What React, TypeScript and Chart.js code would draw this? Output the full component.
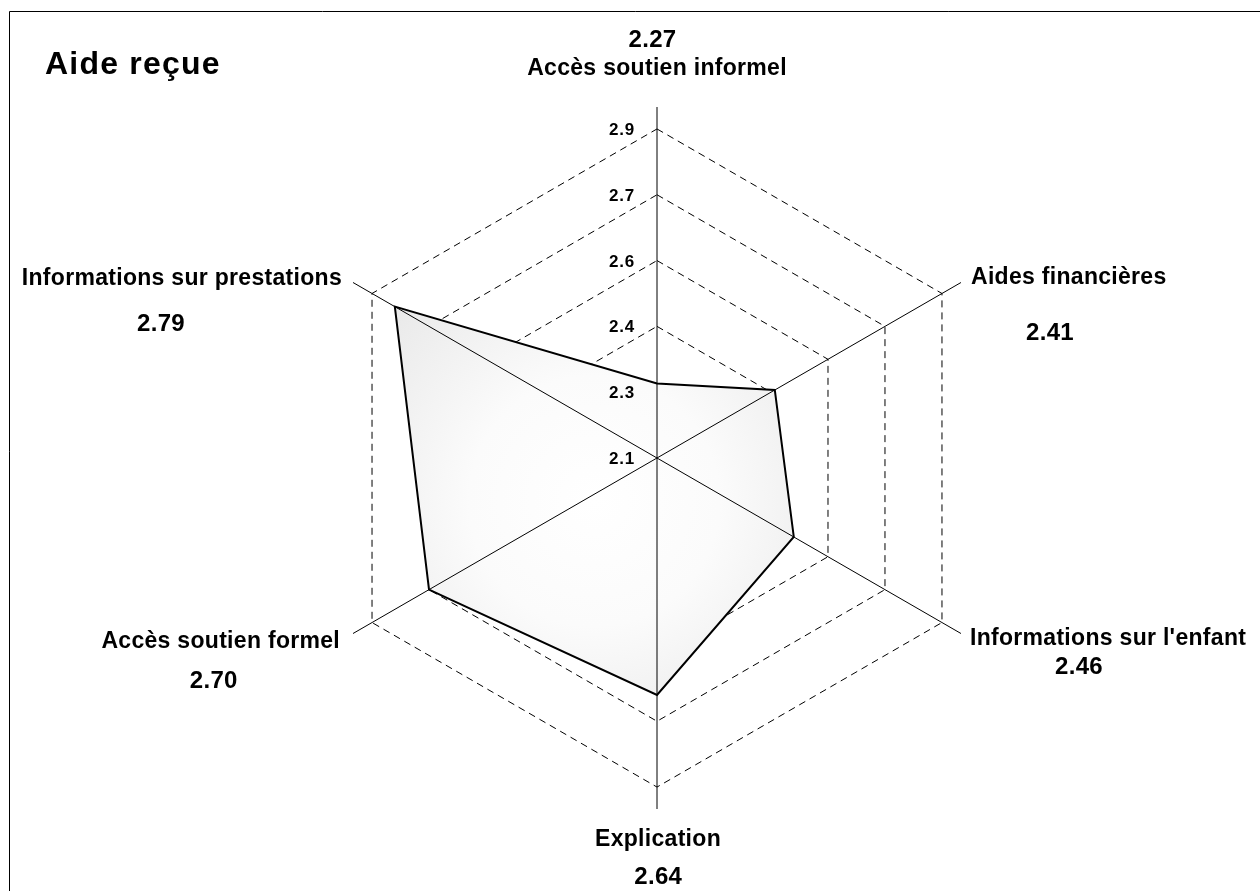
import React, { useEffect, useRef } from "react";
import { Chart, registerables } from "chart.js";

Chart.register(...registerables);

// ---- data ----
const CATEGORIES = [
  "Accès soutien informel",
  "Aides financières",
  "Informations sur l'enfant",
  "Explication",
  "Accès soutien formel",
  "Informations sur prestations",
];
const VALUES = [2.27, 2.41, 2.46, 2.64, 2.7, 2.79];
const TICK_VALUES = [2.1, 2.25, 2.4, 2.55, 2.7, 2.85];
const TICK_LABELS = ["2.1", "2.3", "2.4", "2.6", "2.7", "2.9"];
const SCALE_MIN = 2.1;
const SCALE_MAX = 2.9;
const TITLE = "Aide reçue";

// ---- layout / style ----
const W = 1260;
const H = 891;
const FONT_FAMILY = "'Liberation Sans', Arial, Helvetica, sans-serif";
const NAME_FONT = `bold 23px ${FONT_FAMILY}`;
const VALUE_FONT = `bold 24px ${FONT_FAMILY}`;
const TICK_FONT = `bold 17px ${FONT_FAMILY}`;
const TITLE_FONT = `bold 32px ${FONT_FAMILY}`;

// label offsets relative to the end of each axis line
const NAME_LAYOUT: { dx: number; dy: number; align: CanvasTextAlign }[] = [
  { dx: 0, dy: -32, align: "center" },
  { dx: 10, dy: 1, align: "left" },
  { dx: 9, dy: 11.5, align: "left" },
  { dx: 1, dy: 37, align: "center" },
  { dx: -13, dy: 14, align: "right" },
  { dx: -11, dy: 2, align: "right" },
];
const VALUE_LAYOUT: { dx: number; dy: number }[] = [
  { dx: -4.5, dy: -60.5 },
  { dx: 89, dy: 57.5 },
  { dx: 118, dy: 40 },
  { dx: 1.3, dy: 75 },
  { dx: -139.3, dy: 54 },
  { dx: -192, dy: 48 },
];

const overlayPlugin = {
  id: "overlay",
  afterDatasetsDraw(chart: any) {
    const scale = chart.scales.r;
    const ctx: CanvasRenderingContext2D = chart.ctx;
    if (!scale) return;
    const outer = scale.getDistanceFromCenterForValue(SCALE_MAX);

    ctx.save();
    // angle lines (over the fill)
    ctx.strokeStyle = "#000";
    ctx.lineWidth = 1;
    ctx.setLineDash([]);
    for (let i = 0; i < CATEGORIES.length; i++) {
      const p = scale.getPointPosition(i, outer);
      ctx.beginPath();
      ctx.moveTo(scale.xCenter, scale.yCenter);
      ctx.lineTo(p.x, p.y);
      ctx.stroke();
    }

    ctx.fillStyle = "#000";
    // tick labels
    (ctx as any).letterSpacing = "0.8px";
    ctx.font = TICK_FONT;
    ctx.textAlign = "right";
    ctx.textBaseline = "alphabetic";
    TICK_VALUES.forEach((v, k) => {
      const p = scale.getPointPositionForValue(0, v);
      ctx.fillText(TICK_LABELS[k], p.x - 22, p.y + 6);
    });

    // category names and values
    CATEGORIES.forEach((name, i) => {
      const p = scale.getPointPosition(i, outer);
      const nl = NAME_LAYOUT[i];
      (ctx as any).letterSpacing = "0.3px";
      ctx.font = NAME_FONT;
      ctx.textAlign = nl.align;
      ctx.fillText(name, p.x + nl.dx, p.y + nl.dy);
      const vl = VALUE_LAYOUT[i];
      (ctx as any).letterSpacing = "0.3px";
      ctx.font = VALUE_FONT;
      ctx.textAlign = "center";
      ctx.fillText(VALUES[i].toFixed(2), p.x + vl.dx, p.y + vl.dy);
    });

    // title
    (ctx as any).letterSpacing = "1.2px";
    ctx.font = TITLE_FONT;
    ctx.textAlign = "left";
    ctx.fillText(TITLE, 45, 74);

    // frame
    (ctx as any).letterSpacing = "0px";
    ctx.strokeStyle = "#000";
    ctx.lineWidth = 1;
    ctx.beginPath();
    ctx.moveTo(9.5, H + 5);
    ctx.lineTo(9.5, 11.5);
    ctx.lineTo(W + 5, 11.5);
    ctx.stroke();
    ctx.restore();
  },
};

function fillGradient(c: any) {
  const chart = c.chart;
  const scale = chart.scales && chart.scales.r;
  if (!scale || !chart.chartArea) return "#eeeeee";
  const pts = VALUES.map((v, i) => scale.getPointPositionForValue(i, v));
  const xs = pts.map((p: any) => p.x);
  const ys = pts.map((p: any) => p.y);
  const cx = (Math.min(...xs) + Math.max(...xs)) / 2;
  const cy = (Math.min(...ys) + Math.max(...ys)) / 2;
  let R = 1;
  pts.forEach((p: any) => {
    R = Math.max(R, Math.hypot(p.x - cx, p.y - cy));
  });
  const g = chart.ctx.createRadialGradient(cx, cy, 0, cx, cy, R);
  g.addColorStop(0, "#ffffff");
  g.addColorStop(0.45, "#fbfbfb");
  g.addColorStop(1, "#e9e9e9");
  return g;
}

export default function App() {
  const ref = useRef<HTMLCanvasElement | null>(null);

  useEffect(() => {
    if (!ref.current) return;
    const chart = new Chart(ref.current, {
      type: "radar",
      data: {
        labels: CATEGORIES,
        datasets: [
          {
            data: VALUES,
            borderColor: "#000",
            borderWidth: 2,
            backgroundColor: fillGradient,
            fill: "start",
            pointRadius: 0,
            pointHoverRadius: 0,
            tension: 0,
          },
        ],
      },
      plugins: [overlayPlugin],
      options: {
        animation: false,
        responsive: false,
        events: [],
        layout: { padding: { left: 306, right: 251, top: 107, bottom: 81 } },
        plugins: {
          legend: { display: false },
          title: { display: false },
          tooltip: { enabled: false },
        },
        scales: {
          r: {
            min: SCALE_MIN,
            max: SCALE_MAX,
            startAngle: 0,
            afterBuildTicks: (s: any) => {
              s.ticks = TICK_VALUES.map((v) => ({ value: v }));
            },
            ticks: { display: false },
            pointLabels: { display: false },
            angleLines: { display: false },
            grid: { color: "#000", lineWidth: 1 },
            border: { dash: [7, 5] },
          },
        },
      } as any,
    });
    return () => chart.destroy();
  }, []);

  return (
    <div style={{ position: "fixed", left: 0, top: 0, width: W, height: H, background: "#fff" }}>
      <canvas ref={ref} width={W} height={H} style={{ display: "block", width: W, height: H }} />
    </div>
  );
}
